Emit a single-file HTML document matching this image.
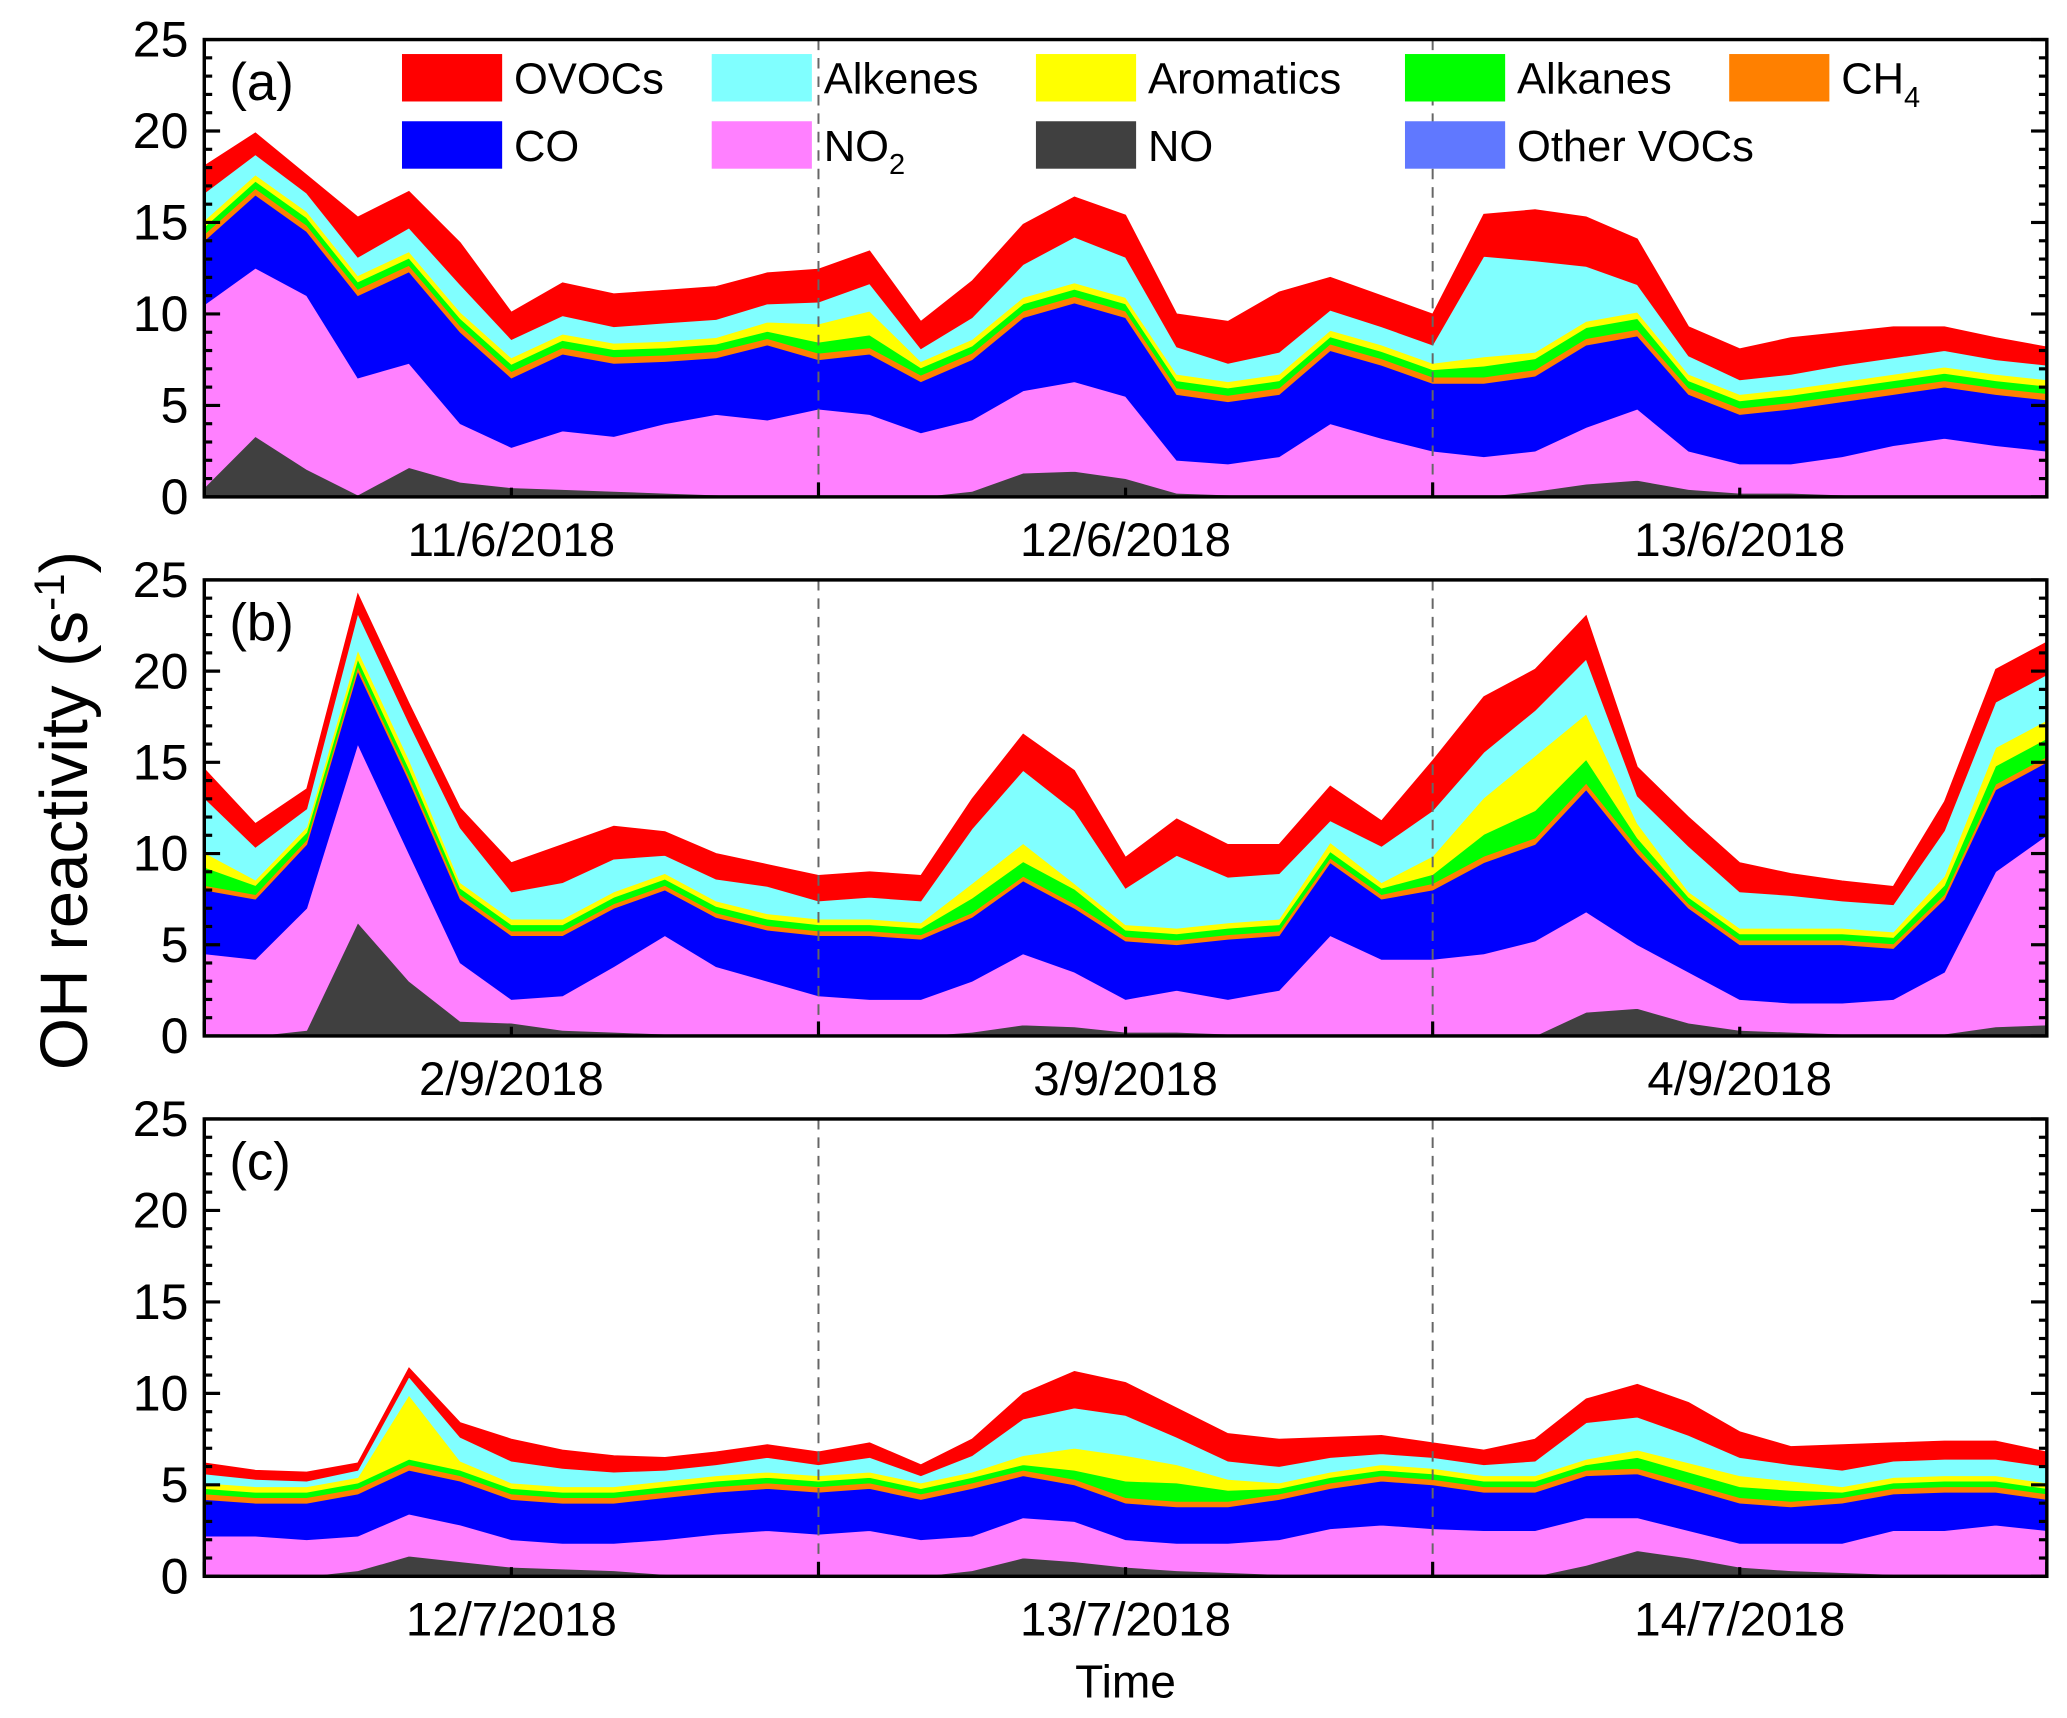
<!DOCTYPE html>
<html><head><meta charset="utf-8"><title>OH reactivity</title>
<style>html,body{margin:0;padding:0;background:#fff}svg{display:block}text{font-family:"Liberation Sans",Arial,sans-serif;fill:#000}</style>
</head><body>
<svg id="chart" width="2067" height="1718" viewBox="0 0 1568.3 1303.5" preserveAspectRatio="none" xmlns="http://www.w3.org/2000/svg">
<g id="panels"></g>
<g id="legend"></g>
<text transform="translate(66,615) rotate(-90)" text-anchor="middle" font-size="51">OH reactivity (s<tspan baseline-shift="super" font-size="32">-1</tspan>)</text>
<text x="854" y="1288" text-anchor="middle" font-size="35">Time</text>
</svg>
<script>
// x grid: hours since start of the 3-day window (every 2 h)
const hours = [0,2,4,6,8,10,12,14,16,18,20,22,24,26,28,30,32,34,36,38,40,42,44,46,48,50,52,54,56,58,60,62,64,66,68,70,72];
const yTicks = [0,5,10,15,20,25];
const panelLabels = ["(a)","(b)","(c)"];
const dateLabelsA = ["11/6/2018","12/6/2018","13/6/2018"];
const dateLabelsB = ["2/9/2018","3/9/2018","4/9/2018"];
const dateLabelsC = ["12/7/2018","13/7/2018","14/7/2018"];
const seriesNames = ["NO","NO2","CO","CH4","Alkanes","Aromatics","Alkenes","OVOCs"];

// Panel (a)
const aNO = [.5,3.3,1.5,.1,1.6,.8,.5,.4,.3,.2,.1,0,0,0,0,.3,1.3,1.4,1.0,.2,.1,0,0,0,0,0,.3,.7,.9,.4,.2,.2,.1,0,0,0,0];
const aNO2 = [10,9.2,9.5,6.4,5.7,3.2,2.2,3.2,3.0,3.8,4.4,4.2,4.8,4.5,3.5,3.9,4.5,4.9,4.5,1.8,1.7,2.2,4,3.2,2.5,2.2,2.2,3.1,3.9,2.1,1.6,1.6,2.1,2.8,3.2,2.8,2.5];
const aCO = [3.5,4,3.5,4.5,5,5,3.8,4.2,4,3.4,3.1,4.1,2.7,3.3,2.8,3.3,4,4.3,4.3,3.6,3.4,3.4,4,4,3.7,4,4.1,4.5,4,3.1,2.7,3,3,2.8,2.8,2.8,2.8];
const aCH4 = [.35,.35,.35,.35,.35,.35,.35,.35,.35,.35,.35,.35,.35,.35,.35,.35,.35,.35,.35,.35,.35,.35,.35,.35,.35,.35,.35,.35,.35,.35,.35,.35,.35,.35,.35,.35,.35];
const aAlkanes = [.4,.4,.4,.4,.4,.4,.4,.4,.4,.4,.4,.4,.6,.7,.4,.4,.4,.4,.4,.4,.4,.4,.4,.4,.4,.6,.6,.6,.6,.4,.4,.4,.4,.4,.4,.4,.4];
const aAromatics = [.35,.35,.35,.35,.35,.35,.35,.35,.35,.35,.35,.5,1.0,1.3,.35,.35,.35,.35,.35,.35,.35,.35,.35,.35,.35,.5,.35,.35,.35,.35,.35,.35,.35,.35,.35,.35,.35];
const aAlkenes = [1.5,1.1,1.0,1.0,1.3,1.5,1.0,1.0,.9,1.0,1.0,1.0,1.2,1.5,.7,1.2,1.8,2.5,2.2,1.5,1.0,1.2,1.1,1.0,1.0,5.5,5.0,3.0,1.5,1.0,.8,.8,.9,.9,.9,.8,.8];
const aOVOCs = [1.5,1.2,1.0,2.2,2.0,2.3,1.5,1.8,1.8,1.8,1.8,1.7,1.8,1.8,1.5,2,2.2,2.2,2.3,1.8,2.3,3.3,1.8,1.7,1.7,2.3,2.8,2.7,2.5,1.6,1.7,2.0,1.8,1.7,1.3,1.2,1.0];

// Panel (b)
const bNO = [0,0,.3,6.2,3,.8,.7,.3,.2,.1,0,0,0,0,0,.2,.6,.5,.2,.2,.1,.1,0,0,0,0,0,1.3,1.5,.7,.3,.2,.1,.1,.1,.5,.6];
const bNO2 = [4.5,4.2,6.7,9.8,7,3.2,1.3,1.9,3.6,5.4,3.8,3.0,2.2,2.0,2.0,2.8,3.9,3.0,1.8,2.3,1.9,2.4,5.5,4.2,4.2,4.5,5.2,5.5,3.5,2.8,1.7,1.6,1.7,1.9,3.4,8.5,10.4];
const bCO = [3.5,3.3,3.5,4,4,3.5,3.5,3.3,3.2,2.5,2.7,2.8,3.3,3.5,3.3,3.5,4,3.5,3.2,2.5,3.3,3.0,4,3.3,3.8,5,5.3,6.7,5,3.5,3,3.2,3.2,2.8,4,4.5,4];
const bCH4 = [.25,.25,.25,.25,.25,.25,.25,.25,.25,.25,.25,.25,.25,.25,.25,.25,.25,.25,.25,.25,.25,.25,.25,.25,.35,.35,.35,.35,.35,.25,.25,.25,.25,.25,.25,.3,.3];
const bAlkanes = [1.0,.5,.4,.4,.4,.35,.35,.35,.35,.35,.35,.35,.35,.35,.35,.8,.8,.8,.35,.35,.35,.35,.35,.35,.5,1.2,1.5,1.3,.5,.35,.35,.35,.35,.35,.5,1.0,1.0];
const bAromatics = [.8,.3,.3,.5,.5,.3,.3,.3,.3,.3,.3,.3,.3,.3,.3,.8,1.0,.3,.3,.3,.3,.3,.5,.3,1.0,2.0,3.0,2.5,.8,.3,.3,.3,.3,.3,.5,1.0,1.0];
const bAlkenes = [3,1.8,1.0,2,2,3,1.5,2,1.8,1.0,1.2,1.5,1.0,1.2,1.2,3,4,4,2,4,2.5,2.5,1.2,2,2.5,2.5,2.5,3,1.5,2.5,2,1.8,1.5,1.5,2.5,2.5,2.5];
const bOVOCs = [1.6,1.3,1.1,1.1,1.1,1.1,1.6,2.1,1.8,1.3,1.4,1.2,1.4,1.4,1.4,1.65,2,2.2,1.7,2,1.8,1.6,1.9,1.4,2.75,3.05,2.25,2.4,1.6,1.6,1.6,1.2,1.1,1.0,1.6,1.8,1.8];

// Panel (c)
const cNO = [0,0,0,.3,1.1,.8,.5,.4,.3,.1,0,0,0,0,0,.3,1.0,.8,.5,.3,.2,.1,0,0,0,0,0,.6,1.4,1.0,.5,.3,.2,.1,.1,0,0];
const cNO2 = [2.2,2.2,2,1.9,2.3,2.0,1.5,1.4,1.5,1.9,2.3,2.5,2.3,2.5,2.0,1.9,2.2,2.2,1.5,1.5,1.6,1.9,2.6,2.8,2.6,2.5,2.5,2.6,1.8,1.5,1.3,1.5,1.6,2.4,2.4,2.8,2.5];
const cCO = [2,1.8,2,2.3,2.4,2.4,2.2,2.2,2.2,2.3,2.3,2.3,2.3,2.3,2.2,2.6,2.3,2,2,2,2,2.2,2.2,2.4,2.4,2.1,2.1,2.3,2.4,2.3,2.2,2,2.2,2,2.1,1.8,1.7];
const cCH4 = [.3,.3,.3,.3,.3,.3,.3,.3,.3,.3,.3,.3,.3,.3,.3,.3,.3,.3,.3,.3,.3,.3,.3,.3,.3,.3,.3,.3,.3,.3,.3,.3,.3,.3,.3,.3,.3];
const cAlkanes = [.3,.3,.3,.3,.3,.3,.3,.3,.3,.3,.3,.3,.3,.3,.3,.3,.3,.5,.9,1.0,.6,.3,.3,.3,.3,.3,.3,.3,.6,.6,.6,.6,.3,.3,.3,.3,.3];
const cAromatics = [.3,.3,.3,.3,3.5,.5,.3,.3,.3,.3,.3,.3,.3,.3,.3,.3,.5,1.2,1.4,1.0,.6,.3,.3,.3,.3,.3,.3,.3,.4,.5,.6,.5,.3,.3,.3,.3,.3];
const cAlkenes = [.5,.4,.3,.4,1.0,1.3,1.2,1.0,.8,.6,.6,.8,.6,.8,.4,.9,2.0,2.2,2.2,1.5,1.0,.9,.8,.6,.6,.6,.8,2.0,1.8,1.5,1.0,.9,.9,.9,.9,.9,.9];
const cOVOCs = [.6,.5,.5,.4,.5,.8,1.2,1.0,.9,.7,.7,.7,.7,.8,.6,.9,1.4,2.0,1.8,1.6,1.5,1.5,1.1,1.0,.8,.8,1.2,1.3,1.8,1.8,1.4,1.0,1.4,1.0,1.0,1.0,.8];

const colors = ["#404040","#ff80ff","#0000ff","#ff8000","#00ff00","#ffff00","#80ffff","#ff0000"];
const NS = "http://www.w3.org/2000/svg";
const X0 = 155, X1 = 1553;
const xScale = h => X0 + (h / 72) * (X1 - X0);
function mk(tag, attrs, parent) {
  const e = document.createElementNS(NS, tag);
  for (const k in attrs) e.setAttribute(k, attrs[k]);
  parent.appendChild(e);
  return e;
}
const panelDefs = [
  {top:30, bottom:377, layers:[aNO,aNO2,aCO,aCH4,aAlkanes,aAromatics,aAlkenes,aOVOCs], dates:dateLabelsA},
  {top:440, bottom:786, layers:[bNO,bNO2,bCO,bCH4,bAlkanes,bAromatics,bAlkenes,bOVOCs], dates:dateLabelsB},
  {top:849, bottom:1196, layers:[cNO,cNO2,cCO,cCH4,cAlkanes,cAromatics,cAlkenes,cOVOCs], dates:dateLabelsC}
];
const root = document.getElementById("panels");
panelDefs.forEach((p, pi) => {
  const g = mk("g", {}, root);
  
  
  const yScale = v => p.bottom - (v / 25) * (p.bottom - p.top);
  let base = hours.map(() => 0);
  p.layers.forEach((vals, li) => {
    const top = base.map((b, i) => b + vals[i]);
    let d = "M" + hours.map((h, i) => xScale(h).toFixed(1) + "," + yScale(top[i]).toFixed(1)).join("L");
    for (let i = hours.length - 1; i >= 0; i--) d += "L" + xScale(hours[i]).toFixed(1) + "," + yScale(base[i]).toFixed(1);
    d += "Z";
    const path = mk("path", {d: d, fill: colors[li], stroke: colors[li], "stroke-width": 0.6}, g);
    
    
    base = top;
  });
  [24, 48].forEach(h => {
    const l = mk("line", {x1: xScale(h), x2: xScale(h), y1: p.top, y2: p.bottom, stroke: "#666", "stroke-width": 1.5, "stroke-dasharray": "8,6"}, g);
    
    
  });
  const fr = mk("rect", {x: X0, y: p.top, width: X1 - X0, height: p.bottom - p.top, fill: "none", stroke: "#000", "stroke-width": 2.6}, g);
  
  
  for (let v = 0; v <= 25; v++) {
    const len = v % 5 === 0 ? 12 : 6;
    const y = yScale(v);
    mk("line", {x1: X0, x2: X0 + len, y1: y, y2: y, stroke: "#000", "stroke-width": 2.4}, g);
    mk("line", {x1: X1, x2: X1 - len, y1: y, y2: y, stroke: "#000", "stroke-width": 2.4}, g);
  }
  yTicks.forEach(v => {
    const t = mk("text", {x: 143, y: yScale(v) + 13, "text-anchor": "end", "font-size": 38}, g);
    t.textContent = v;
    
    
  });
  [0, 12, 24, 36, 48, 60, 72].forEach(h => {
    const len = h % 24 === 0 ? 11 : 7;
    mk("line", {x1: xScale(h), x2: xScale(h), y1: p.bottom, y2: p.bottom - len, stroke: "#000", "stroke-width": 2.4}, g);
  });
  p.dates.forEach((lab, i) => {
    const t = mk("text", {x: xScale(12 + 24 * i), y: p.bottom + 45, "text-anchor": "middle", "font-size": 36}, g);
    t.textContent = lab;
    
    
  });
  const pl = mk("text", {x: 174, y: p.top + 46, "font-size": 40}, g);
  pl.textContent = panelLabels[pi];
  
  
});
const leg = document.getElementById("legend");
const legendItems = [
  ["OVOCs","#ff0000",305,41,""],["Alkenes","#80ffff",540,41,""],["Aromatics","#ffff00",786,41,""],["Alkanes","#00ff00",1066,41,""],["CH","#ff8000",1312,41,"4"],
  ["CO","#0000ff",305,92,""],["NO","#ff80ff",540,92,"2"],["NO","#404040",786,92,""],["Other VOCs","#6078ff",1066,92,""]
];
legendItems.forEach(it => {
  const g = mk("g", {}, leg);
  
  
  mk("rect", {x: it[2], y: it[3], width: 76, height: 36, fill: it[1]}, g);
  const t = mk("text", {x: it[2] + 85, y: it[3] + 30, "font-size": 33}, g);
  t.textContent = it[0];
  if (it[4]) {
    const s = mk("tspan", {"font-size": 22, dy: 10}, t);
    s.textContent = it[4];
  }
});
</script>
</body></html>
